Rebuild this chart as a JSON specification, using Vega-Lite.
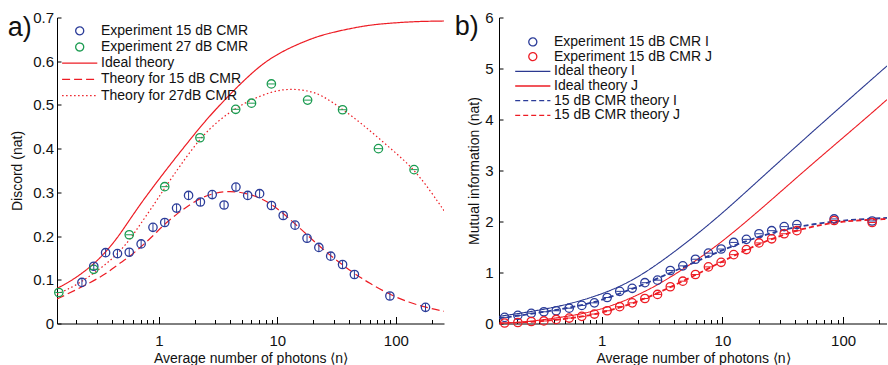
{
 "$schema": "https://vega.github.io/schema/vega-lite/v6.json",
 "padding": {"left": 7, "top": 10.5, "right": 0, "bottom": 0},
 "background": "white",
 "spacing": 10,
 "config": {
  "font": "Liberation Sans",
  "view": {"stroke": null},
  "axis": {"grid": false, "domainColor": "#000", "tickColor": "#000", "labelColor": "#111", "titleColor": "#111", "titleFontWeight": "normal", "domainWidth": 1, "tickWidth": 1},
  "legend": {"labelFont": "Liberation Sans", "labelFontSize": 14, "labelColor": "#111", "padding": 0, "symbolSize": 64, "symbolStrokeWidth": 1.3, "symbolFillColor": "transparent", "direction": "vertical"}
 },
 "resolve": {"scale": {"color": "independent", "shape": "independent", "strokeDash": "independent"}},
 "hconcat": [
  {
   "width": 387, "height": 306,
   "resolve": {"axis": {"y": "independent"}},
   "layer": [
    {
     "data": {"name": "theoryA"},
     "mark": {"type": "line", "strokeWidth": 1.2, "clip": true, "interpolate": "basis"},
     "encoding": {
      "x": {"field": "n", "type": "quantitative", "scale": {"type": "log", "domain": [0.138, 255], "nice": false},
        "axis": {"values": [0.2,0.3,0.4,0.5,0.6,0.7,0.8,0.9,1,2,3,4,5,6,7,8,9,10,20,30,40,50,60,70,80,90,100,200],
          "labelExpr": "datum.value == 1 ? '1' : datum.value == 10 ? '10' : datum.value == 100 ? '100' : ''",
          "labelOverlap": false, "labelFlush": false,
          "tickSize": {"condition": {"test": "datum.value == 1 || datum.value == 10 || datum.value == 100", "value": -7}, "value": -4},
          "labelPadding": 17, "labelFontSize": 15, "title": "Average number of photons ⟨n⟩", "titleFontSize": 14, "titlePadding": 0}},
      "y": {"field": "v", "type": "quantitative", "scale": {"domain": [0, 0.7], "nice": false, "zero": false},
        "axis": {"values": [0,0.1,0.2,0.3,0.4,0.5,0.6,0.7], "format": ".1~f", "tickSize": -4, "labelPadding": 7.5, "labelFontSize": 15, "title": "Discord (nat)", "titleFontSize": 14, "titlePadding": 8}},
      "color": {"field": "series", "type": "nominal",
        "scale": {"domain": ["Experiment 15 dB CMR", "Experiment 27 dB CMR", "Ideal theory", "Theory for 15 dB CMR", "Theory for 27dB CMR"], "range": ["#2b3c99", "#1a9b50", "#ed1c24", "#ed1c24", "#ed1c24"]},
        "legend": {"orient": "none", "legendX": 15.7, "legendY": 6.3, "title": null, "labelOffset": 14.3, "rowPadding": 2.2}},
      "strokeDash": {"field": "series", "type": "nominal",
        "scale": {"domain": ["Experiment 15 dB CMR", "Experiment 27 dB CMR", "Ideal theory", "Theory for 15 dB CMR", "Theory for 27dB CMR"], "range": [[1,0],[1,0],[1,0],[8,4],[1.5,2.5]]},
        "legend": {"orient": "none", "legendX": 15.7, "legendY": 6.3, "title": null, "labelOffset": 14.3, "rowPadding": 2.2}}
     }
    },
    {
     "data": {"name": "expA"},
     "mark": {"type": "point", "filled": false, "size": 70, "strokeWidth": 1.3, "opacity": 1},
     "encoding": {
      "x": {"field": "n", "type": "quantitative"},
      "y": {"field": "v", "type": "quantitative", "axis": null},
      "color": {"field": "series", "type": "nominal",
        "scale": {"domain": ["Experiment 15 dB CMR", "Experiment 27 dB CMR", "Ideal theory", "Theory for 15 dB CMR", "Theory for 27dB CMR"], "range": ["#2b3c99", "#1a9b50", "#ed1c24", "#ed1c24", "#ed1c24"]},
        "legend": {"orient": "none", "legendX": 15.7, "legendY": 6.3, "title": null, "labelOffset": 14.3, "rowPadding": 2.2}},
      "shape": {"field": "series", "type": "nominal",
        "scale": {"domain": ["Experiment 15 dB CMR", "Experiment 27 dB CMR", "Ideal theory", "Theory for 15 dB CMR", "Theory for 27dB CMR"], "range": ["circle", "circle", "M-4.4,0H4.4", "M-4.4,0H4.4", "M-4.4,0H4.4"]},
        "legend": {"orient": "none", "legendX": 15.7, "legendY": 6.3, "title": null, "labelOffset": 14.3, "rowPadding": 2.2}}
     }
    },
    {
     "data": {"name": "expA"},
     "transform": [{"filter": "datum.series == 'Experiment 15 dB CMR'"}],
     "mark": {"type": "tick", "orient": "vertical", "size": 8, "thickness": 1, "color": "#2b3c99", "opacity": 1},
     "encoding": {"x": {"field": "n", "type": "quantitative"}, "y": {"field": "v", "type": "quantitative", "axis": null}}
    },
    {
     "data": {"name": "expA"},
     "transform": [{"filter": "datum.series == 'Experiment 27 dB CMR'"}],
     "mark": {"type": "tick", "orient": "horizontal", "size": 7, "thickness": 1, "color": "#1a9b50", "opacity": 1},
     "encoding": {"x": {"field": "n", "type": "quantitative"},
      "y": {"field": "v", "type": "quantitative",
        "axis": {"orient": "left", "domain": false, "ticks": false, "labels": false, "title": "a)", "titleAngle": 0, "titleAlign": "left", "titleBaseline": "alphabetic", "titleX": -49.7, "titleY": 18, "titleFontSize": 27, "titleFontWeight": "normal", "titleColor": "#111"}}}
    }
   ]
  },
  {
   "width": 388, "height": 306,
   "resolve": {"axis": {"y": "independent"}},
   "layer": [
    {
     "data": {"name": "theoryB"},
     "transform": [{"filter": {"field": "series", "oneOf": ["Ideal theory I", "Ideal theory J"]}}],
     "mark": {"type": "line", "strokeWidth": 1.1, "clip": true, "interpolate": "basis"},
     "encoding": {
      "x": {"field": "n", "type": "quantitative", "scale": {"type": "log", "domain": [0.141, 231], "nice": false},
        "axis": {"values": [0.2,0.3,0.4,0.5,0.6,0.7,0.8,0.9,1,2,3,4,5,6,7,8,9,10,20,30,40,50,60,70,80,90,100,200],
          "labelExpr": "datum.value == 1 ? '1' : datum.value == 10 ? '10' : datum.value == 100 ? '100' : ''",
          "labelOverlap": false, "labelFlush": false,
          "tickSize": {"condition": {"test": "datum.value == 1 || datum.value == 10 || datum.value == 100", "value": -7}, "value": -4},
          "labelPadding": 17, "labelFontSize": 15, "title": "Average number of photons ⟨n⟩", "titleFontSize": 14, "titlePadding": 0}},
      "y": {"field": "v", "type": "quantitative", "scale": {"domain": [0, 6], "nice": false, "zero": false},
        "axis": {"values": [0,1,2,3,4,5,6], "format": "d", "tickSize": -4, "labelPadding": 10, "labelFontSize": 15, "title": "Mutual information (nat)", "titleFontSize": 14, "titlePadding": 3}},
      "color": {"field": "series", "type": "nominal",
        "scale": {"domain": ["Experiment 15 dB CMR I", "Experiment 15 dB CMR J", "Ideal theory I", "Ideal theory J", "15 dB CMR theory I", "15 dB CMR theory J"], "range": ["#2b3c99", "#ed1c24", "#2b3990", "#ed1c24", "#2b3c99", "#ed1c24"]},
        "legend": {"orient": "none", "legendX": 26.8, "legendY": 17.4, "title": null, "labelOffset": 14.2, "rowPadding": 0.7}},
      "strokeDash": {"field": "series", "type": "nominal",
        "scale": {"domain": ["Experiment 15 dB CMR I", "Experiment 15 dB CMR J", "Ideal theory I", "Ideal theory J", "15 dB CMR theory I", "15 dB CMR theory J"], "range": [[1,0],[1,0],[1,0],[1,0],[5,3],[5,3]]},
        "legend": {"orient": "none", "legendX": 26.8, "legendY": 17.4, "title": null, "labelOffset": 14.2, "rowPadding": 0.7}}
     }
    },
    {
     "data": {"name": "theoryB"},
     "transform": [{"filter": {"field": "series", "oneOf": ["15 dB CMR theory I", "15 dB CMR theory J"]}}],
     "mark": {"type": "line", "strokeWidth": 1.8, "clip": true, "interpolate": "basis"},
     "encoding": {
      "x": {"field": "n", "type": "quantitative"},
      "y": {"field": "v", "type": "quantitative", "axis": null},
      "color": {"field": "series", "type": "nominal",
        "scale": {"domain": ["Experiment 15 dB CMR I", "Experiment 15 dB CMR J", "Ideal theory I", "Ideal theory J", "15 dB CMR theory I", "15 dB CMR theory J"], "range": ["#2b3c99", "#ed1c24", "#2b3990", "#ed1c24", "#2b3c99", "#ed1c24"]},
        "legend": {"orient": "none", "legendX": 26.8, "legendY": 17.4, "title": null, "labelOffset": 14.2, "rowPadding": 0.7}},
      "strokeDash": {"field": "series", "type": "nominal",
        "scale": {"domain": ["Experiment 15 dB CMR I", "Experiment 15 dB CMR J", "Ideal theory I", "Ideal theory J", "15 dB CMR theory I", "15 dB CMR theory J"], "range": [[1,0],[1,0],[1,0],[1,0],[5,3],[5,3]]},
        "legend": {"orient": "none", "legendX": 26.8, "legendY": 17.4, "title": null, "labelOffset": 14.2, "rowPadding": 0.7}}
     }
    },
    {
     "data": {"name": "expB"},
     "mark": {"type": "point", "filled": false, "size": 70, "strokeWidth": 1.3, "opacity": 1},
     "encoding": {
      "x": {"field": "n", "type": "quantitative"},
      "y": {"field": "v", "type": "quantitative", "axis": null},
      "color": {"field": "series", "type": "nominal",
        "scale": {"domain": ["Experiment 15 dB CMR I", "Experiment 15 dB CMR J", "Ideal theory I", "Ideal theory J", "15 dB CMR theory I", "15 dB CMR theory J"], "range": ["#2b3c99", "#ed1c24", "#2b3990", "#ed1c24", "#2b3c99", "#ed1c24"]},
        "legend": {"orient": "none", "legendX": 26.8, "legendY": 17.4, "title": null, "labelOffset": 14.2, "rowPadding": 0.7}},
      "shape": {"field": "series", "type": "nominal",
        "scale": {"domain": ["Experiment 15 dB CMR I", "Experiment 15 dB CMR J", "Ideal theory I", "Ideal theory J", "15 dB CMR theory I", "15 dB CMR theory J"], "range": ["circle", "circle", "M-4.4,0H4.4", "M-4.4,0H4.4", "M-4.4,0H4.4", "M-4.4,0H4.4"]},
        "legend": {"orient": "none", "legendX": 26.8, "legendY": 17.4, "title": null, "labelOffset": 14.2, "rowPadding": 0.7}}
     }
    },
    {
     "data": {"name": "expB"},
     "transform": [{"filter": "datum.series == 'Experiment 15 dB CMR I'"}],
     "mark": {"type": "tick", "orient": "horizontal", "size": 7, "thickness": 1, "color": "#2b3c99", "opacity": 1},
     "encoding": {"x": {"field": "n", "type": "quantitative"}, "y": {"field": "v", "type": "quantitative", "axis": null}}
    },
    {
     "data": {"name": "expB"},
     "transform": [{"filter": "datum.series == 'Experiment 15 dB CMR J'"}],
     "mark": {"type": "tick", "orient": "horizontal", "size": 7, "thickness": 1, "color": "#ed1c24", "opacity": 1},
     "encoding": {"x": {"field": "n", "type": "quantitative"},
      "y": {"field": "v", "type": "quantitative",
        "axis": {"orient": "left", "domain": false, "ticks": false, "labels": false, "title": "b)", "titleAngle": 0, "titleAlign": "left", "titleBaseline": "alphabetic", "titleX": -44.7, "titleY": 16.5, "titleFontSize": 27, "titleFontWeight": "normal", "titleColor": "#111"}}}
    }
   ]
  }
 ],
 "datasets": {
  "expA": [
   {"series": "Experiment 15 dB CMR", "n": 0.224, "v": 0.094},
   {"series": "Experiment 15 dB CMR", "n": 0.282, "v": 0.131},
   {"series": "Experiment 15 dB CMR", "n": 0.355, "v": 0.162},
   {"series": "Experiment 15 dB CMR", "n": 0.447, "v": 0.160},
   {"series": "Experiment 15 dB CMR", "n": 0.562, "v": 0.163},
   {"series": "Experiment 15 dB CMR", "n": 0.708, "v": 0.182},
   {"series": "Experiment 15 dB CMR", "n": 0.891, "v": 0.220},
   {"series": "Experiment 15 dB CMR", "n": 1.12, "v": 0.231},
   {"series": "Experiment 15 dB CMR", "n": 1.41, "v": 0.264},
   {"series": "Experiment 15 dB CMR", "n": 1.78, "v": 0.293},
   {"series": "Experiment 15 dB CMR", "n": 2.24, "v": 0.278},
   {"series": "Experiment 15 dB CMR", "n": 2.82, "v": 0.295},
   {"series": "Experiment 15 dB CMR", "n": 3.55, "v": 0.271},
   {"series": "Experiment 15 dB CMR", "n": 4.47, "v": 0.312},
   {"series": "Experiment 15 dB CMR", "n": 5.62, "v": 0.293},
   {"series": "Experiment 15 dB CMR", "n": 7.08, "v": 0.297},
   {"series": "Experiment 15 dB CMR", "n": 8.91, "v": 0.270},
   {"series": "Experiment 15 dB CMR", "n": 11.2, "v": 0.247},
   {"series": "Experiment 15 dB CMR", "n": 14.1, "v": 0.225},
   {"series": "Experiment 15 dB CMR", "n": 17.8, "v": 0.195},
   {"series": "Experiment 15 dB CMR", "n": 22.4, "v": 0.174},
   {"series": "Experiment 15 dB CMR", "n": 28.2, "v": 0.154},
   {"series": "Experiment 15 dB CMR", "n": 35.5, "v": 0.135},
   {"series": "Experiment 15 dB CMR", "n": 44.7, "v": 0.112},
   {"series": "Experiment 15 dB CMR", "n": 89.1, "v": 0.063},
   {"series": "Experiment 15 dB CMR", "n": 178, "v": 0.037},
   {"series": "Experiment 27 dB CMR", "n": 0.143, "v": 0.071},
   {"series": "Experiment 27 dB CMR", "n": 0.282, "v": 0.124},
   {"series": "Experiment 27 dB CMR", "n": 0.562, "v": 0.203},
   {"series": "Experiment 27 dB CMR", "n": 1.12, "v": 0.313},
   {"series": "Experiment 27 dB CMR", "n": 2.22, "v": 0.425},
   {"series": "Experiment 27 dB CMR", "n": 4.45, "v": 0.490},
   {"series": "Experiment 27 dB CMR", "n": 6.05, "v": 0.504},
   {"series": "Experiment 27 dB CMR", "n": 8.9, "v": 0.548},
   {"series": "Experiment 27 dB CMR", "n": 18.0, "v": 0.511},
   {"series": "Experiment 27 dB CMR", "n": 35.5, "v": 0.489},
   {"series": "Experiment 27 dB CMR", "n": 71.3, "v": 0.400},
   {"series": "Experiment 27 dB CMR", "n": 142.5, "v": 0.352}
  ],
  "theoryA": [
   {"series": "Ideal theory", "n": 0.138, "v": 0.080},
   {"series": "Ideal theory", "n": 0.2, "v": 0.104},
   {"series": "Ideal theory", "n": 0.282, "v": 0.136},
   {"series": "Ideal theory", "n": 0.355, "v": 0.163},
   {"series": "Ideal theory", "n": 0.45, "v": 0.197},
   {"series": "Ideal theory", "n": 0.562, "v": 0.236},
   {"series": "Ideal theory", "n": 0.71, "v": 0.276},
   {"series": "Ideal theory", "n": 0.95, "v": 0.322},
   {"series": "Ideal theory", "n": 1.3, "v": 0.370},
   {"series": "Ideal theory", "n": 1.8, "v": 0.418},
   {"series": "Ideal theory", "n": 2.5, "v": 0.466},
   {"series": "Ideal theory", "n": 3.9, "v": 0.522},
   {"series": "Ideal theory", "n": 5.5, "v": 0.562},
   {"series": "Ideal theory", "n": 7.5, "v": 0.594},
   {"series": "Ideal theory", "n": 10, "v": 0.616},
   {"series": "Ideal theory", "n": 14, "v": 0.636},
   {"series": "Ideal theory", "n": 20, "v": 0.653},
   {"series": "Ideal theory", "n": 27, "v": 0.664},
   {"series": "Ideal theory", "n": 45, "v": 0.677},
   {"series": "Ideal theory", "n": 65, "v": 0.684},
   {"series": "Ideal theory", "n": 100, "v": 0.688},
   {"series": "Ideal theory", "n": 150, "v": 0.691},
   {"series": "Ideal theory", "n": 255, "v": 0.692},
   {"series": "Theory for 15 dB CMR", "n": 0.138, "v": 0.056},
   {"series": "Theory for 15 dB CMR", "n": 0.2, "v": 0.077},
   {"series": "Theory for 15 dB CMR", "n": 0.282, "v": 0.098},
   {"series": "Theory for 15 dB CMR", "n": 0.355, "v": 0.113},
   {"series": "Theory for 15 dB CMR", "n": 0.45, "v": 0.135},
   {"series": "Theory for 15 dB CMR", "n": 0.562, "v": 0.152},
   {"series": "Theory for 15 dB CMR", "n": 0.71, "v": 0.176},
   {"series": "Theory for 15 dB CMR", "n": 0.89, "v": 0.200},
   {"series": "Theory for 15 dB CMR", "n": 1.12, "v": 0.228},
   {"series": "Theory for 15 dB CMR", "n": 1.41, "v": 0.250},
   {"series": "Theory for 15 dB CMR", "n": 1.78, "v": 0.270},
   {"series": "Theory for 15 dB CMR", "n": 2.24, "v": 0.287},
   {"series": "Theory for 15 dB CMR", "n": 2.82, "v": 0.297},
   {"series": "Theory for 15 dB CMR", "n": 3.55, "v": 0.302},
   {"series": "Theory for 15 dB CMR", "n": 4.47, "v": 0.302},
   {"series": "Theory for 15 dB CMR", "n": 5.62, "v": 0.297},
   {"series": "Theory for 15 dB CMR", "n": 7.08, "v": 0.288},
   {"series": "Theory for 15 dB CMR", "n": 8.91, "v": 0.273},
   {"series": "Theory for 15 dB CMR", "n": 11.2, "v": 0.252},
   {"series": "Theory for 15 dB CMR", "n": 14.1, "v": 0.228},
   {"series": "Theory for 15 dB CMR", "n": 17.8, "v": 0.203},
   {"series": "Theory for 15 dB CMR", "n": 22.4, "v": 0.178},
   {"series": "Theory for 15 dB CMR", "n": 28.2, "v": 0.155},
   {"series": "Theory for 15 dB CMR", "n": 35.5, "v": 0.134},
   {"series": "Theory for 15 dB CMR", "n": 44.7, "v": 0.114},
   {"series": "Theory for 15 dB CMR", "n": 60, "v": 0.092},
   {"series": "Theory for 15 dB CMR", "n": 89, "v": 0.066},
   {"series": "Theory for 15 dB CMR", "n": 130, "v": 0.048},
   {"series": "Theory for 15 dB CMR", "n": 178, "v": 0.037},
   {"series": "Theory for 15 dB CMR", "n": 255, "v": 0.028},
   {"series": "Theory for 27dB CMR", "n": 0.138, "v": 0.067},
   {"series": "Theory for 27dB CMR", "n": 0.2, "v": 0.087},
   {"series": "Theory for 27dB CMR", "n": 0.282, "v": 0.115},
   {"series": "Theory for 27dB CMR", "n": 0.355, "v": 0.135},
   {"series": "Theory for 27dB CMR", "n": 0.45, "v": 0.160},
   {"series": "Theory for 27dB CMR", "n": 0.562, "v": 0.190},
   {"series": "Theory for 27dB CMR", "n": 0.71, "v": 0.230},
   {"series": "Theory for 27dB CMR", "n": 0.95, "v": 0.280},
   {"series": "Theory for 27dB CMR", "n": 1.12, "v": 0.310},
   {"series": "Theory for 27dB CMR", "n": 1.5, "v": 0.360},
   {"series": "Theory for 27dB CMR", "n": 2.24, "v": 0.425},
   {"series": "Theory for 27dB CMR", "n": 3.2, "v": 0.465},
   {"series": "Theory for 27dB CMR", "n": 4.47, "v": 0.493},
   {"series": "Theory for 27dB CMR", "n": 6.1, "v": 0.513},
   {"series": "Theory for 27dB CMR", "n": 8.9, "v": 0.530},
   {"series": "Theory for 27dB CMR", "n": 12, "v": 0.537},
   {"series": "Theory for 27dB CMR", "n": 17.8, "v": 0.534},
   {"series": "Theory for 27dB CMR", "n": 24, "v": 0.522},
   {"series": "Theory for 27dB CMR", "n": 35.5, "v": 0.490},
   {"series": "Theory for 27dB CMR", "n": 50, "v": 0.460},
   {"series": "Theory for 27dB CMR", "n": 71, "v": 0.425},
   {"series": "Theory for 27dB CMR", "n": 100, "v": 0.390},
   {"series": "Theory for 27dB CMR", "n": 142, "v": 0.353},
   {"series": "Theory for 27dB CMR", "n": 200, "v": 0.300},
   {"series": "Theory for 27dB CMR", "n": 255, "v": 0.258}
  ],
  "expB": [
   {"series": "Experiment 15 dB CMR I", "n": 0.157, "v": 0.12},
   {"series": "Experiment 15 dB CMR I", "n": 0.202, "v": 0.16},
   {"series": "Experiment 15 dB CMR I", "n": 0.261, "v": 0.20},
   {"series": "Experiment 15 dB CMR I", "n": 0.332, "v": 0.23},
   {"series": "Experiment 15 dB CMR I", "n": 0.42, "v": 0.25},
   {"series": "Experiment 15 dB CMR I", "n": 0.538, "v": 0.30},
   {"series": "Experiment 15 dB CMR I", "n": 0.684, "v": 0.355},
   {"series": "Experiment 15 dB CMR I", "n": 0.87, "v": 0.405},
   {"series": "Experiment 15 dB CMR I", "n": 1.11, "v": 0.51},
   {"series": "Experiment 15 dB CMR I", "n": 1.41, "v": 0.63},
   {"series": "Experiment 15 dB CMR I", "n": 1.79, "v": 0.69},
   {"series": "Experiment 15 dB CMR I", "n": 2.28, "v": 0.80},
   {"series": "Experiment 15 dB CMR I", "n": 2.9, "v": 0.85},
   {"series": "Experiment 15 dB CMR I", "n": 3.7, "v": 1.04},
   {"series": "Experiment 15 dB CMR I", "n": 4.7, "v": 1.13},
   {"series": "Experiment 15 dB CMR I", "n": 5.98, "v": 1.26},
   {"series": "Experiment 15 dB CMR I", "n": 7.66, "v": 1.38},
   {"series": "Experiment 15 dB CMR I", "n": 9.76, "v": 1.46},
   {"series": "Experiment 15 dB CMR I", "n": 12.4, "v": 1.59},
   {"series": "Experiment 15 dB CMR I", "n": 15.8, "v": 1.65},
   {"series": "Experiment 15 dB CMR I", "n": 20.1, "v": 1.76},
   {"series": "Experiment 15 dB CMR I", "n": 25.6, "v": 1.82},
   {"series": "Experiment 15 dB CMR I", "n": 32.5, "v": 1.90},
   {"series": "Experiment 15 dB CMR I", "n": 41.4, "v": 1.94},
   {"series": "Experiment 15 dB CMR I", "n": 84.3, "v": 2.05},
   {"series": "Experiment 15 dB CMR I", "n": 174, "v": 2.01},
   {"series": "Experiment 15 dB CMR J", "n": 0.157, "v": 0.01},
   {"series": "Experiment 15 dB CMR J", "n": 0.202, "v": 0.02},
   {"series": "Experiment 15 dB CMR J", "n": 0.261, "v": 0.04},
   {"series": "Experiment 15 dB CMR J", "n": 0.332, "v": 0.05},
   {"series": "Experiment 15 dB CMR J", "n": 0.42, "v": 0.08},
   {"series": "Experiment 15 dB CMR J", "n": 0.538, "v": 0.107},
   {"series": "Experiment 15 dB CMR J", "n": 0.684, "v": 0.14},
   {"series": "Experiment 15 dB CMR J", "n": 0.87, "v": 0.185},
   {"series": "Experiment 15 dB CMR J", "n": 1.11, "v": 0.25},
   {"series": "Experiment 15 dB CMR J", "n": 1.41, "v": 0.33},
   {"series": "Experiment 15 dB CMR J", "n": 1.79, "v": 0.405},
   {"series": "Experiment 15 dB CMR J", "n": 2.28, "v": 0.49},
   {"series": "Experiment 15 dB CMR J", "n": 2.9, "v": 0.57},
   {"series": "Experiment 15 dB CMR J", "n": 3.7, "v": 0.72},
   {"series": "Experiment 15 dB CMR J", "n": 4.7, "v": 0.83},
   {"series": "Experiment 15 dB CMR J", "n": 5.98, "v": 0.96},
   {"series": "Experiment 15 dB CMR J", "n": 7.66, "v": 1.11},
   {"series": "Experiment 15 dB CMR J", "n": 9.76, "v": 1.20},
   {"series": "Experiment 15 dB CMR J", "n": 12.4, "v": 1.35},
   {"series": "Experiment 15 dB CMR J", "n": 15.8, "v": 1.45},
   {"series": "Experiment 15 dB CMR J", "n": 20.1, "v": 1.58},
   {"series": "Experiment 15 dB CMR J", "n": 25.6, "v": 1.66},
   {"series": "Experiment 15 dB CMR J", "n": 32.5, "v": 1.76},
   {"series": "Experiment 15 dB CMR J", "n": 41.4, "v": 1.82},
   {"series": "Experiment 15 dB CMR J", "n": 84.3, "v": 2.02},
   {"series": "Experiment 15 dB CMR J", "n": 174, "v": 1.98}
  ],
  "theoryB": [
   {"series": "Ideal theory I", "n": 0.141, "v": 0.14},
   {"series": "Ideal theory I", "n": 0.25, "v": 0.225},
   {"series": "Ideal theory I", "n": 0.46, "v": 0.34},
   {"series": "Ideal theory I", "n": 0.87, "v": 0.52},
   {"series": "Ideal theory I", "n": 1.64, "v": 0.78},
   {"series": "Ideal theory I", "n": 3.1, "v": 1.20},
   {"series": "Ideal theory I", "n": 7, "v": 1.85},
   {"series": "Ideal theory I", "n": 12, "v": 2.33},
   {"series": "Ideal theory I", "n": 23, "v": 2.94},
   {"series": "Ideal theory I", "n": 43, "v": 3.52},
   {"series": "Ideal theory I", "n": 81, "v": 4.10},
   {"series": "Ideal theory I", "n": 150, "v": 4.66},
   {"series": "Ideal theory I", "n": 231, "v": 5.05},
   {"series": "Ideal theory J", "n": 0.141, "v": 0.0},
   {"series": "Ideal theory J", "n": 0.25, "v": 0.035},
   {"series": "Ideal theory J", "n": 0.46, "v": 0.12},
   {"series": "Ideal theory J", "n": 0.87, "v": 0.23},
   {"series": "Ideal theory J", "n": 1.64, "v": 0.46},
   {"series": "Ideal theory J", "n": 3.1, "v": 0.78},
   {"series": "Ideal theory J", "n": 7, "v": 1.33},
   {"series": "Ideal theory J", "n": 12, "v": 1.76},
   {"series": "Ideal theory J", "n": 23, "v": 2.33},
   {"series": "Ideal theory J", "n": 43, "v": 2.90},
   {"series": "Ideal theory J", "n": 81, "v": 3.46},
   {"series": "Ideal theory J", "n": 150, "v": 4.00},
   {"series": "Ideal theory J", "n": 231, "v": 4.39},
   {"series": "15 dB CMR theory I", "n": 0.141, "v": 0.10},
   {"series": "15 dB CMR theory I", "n": 0.2, "v": 0.15},
   {"series": "15 dB CMR theory I", "n": 0.3, "v": 0.21},
   {"series": "15 dB CMR theory I", "n": 0.46, "v": 0.28},
   {"series": "15 dB CMR theory I", "n": 0.7, "v": 0.36},
   {"series": "15 dB CMR theory I", "n": 1.0, "v": 0.46},
   {"series": "15 dB CMR theory I", "n": 1.5, "v": 0.61},
   {"series": "15 dB CMR theory I", "n": 2.2, "v": 0.76},
   {"series": "15 dB CMR theory I", "n": 3.2, "v": 0.93},
   {"series": "15 dB CMR theory I", "n": 4.7, "v": 1.10},
   {"series": "15 dB CMR theory I", "n": 7, "v": 1.28},
   {"series": "15 dB CMR theory I", "n": 10, "v": 1.44},
   {"series": "15 dB CMR theory I", "n": 15, "v": 1.60},
   {"series": "15 dB CMR theory I", "n": 22, "v": 1.73},
   {"series": "15 dB CMR theory I", "n": 32, "v": 1.84},
   {"series": "15 dB CMR theory I", "n": 45, "v": 1.91},
   {"series": "15 dB CMR theory I", "n": 70, "v": 1.98},
   {"series": "15 dB CMR theory I", "n": 100, "v": 2.02},
   {"series": "15 dB CMR theory I", "n": 150, "v": 2.05},
   {"series": "15 dB CMR theory I", "n": 231, "v": 2.07},
   {"series": "15 dB CMR theory J", "n": 0.141, "v": 0.0},
   {"series": "15 dB CMR theory J", "n": 0.2, "v": 0.015},
   {"series": "15 dB CMR theory J", "n": 0.3, "v": 0.04},
   {"series": "15 dB CMR theory J", "n": 0.46, "v": 0.08},
   {"series": "15 dB CMR theory J", "n": 0.7, "v": 0.135},
   {"series": "15 dB CMR theory J", "n": 1.0, "v": 0.21},
   {"series": "15 dB CMR theory J", "n": 1.5, "v": 0.33},
   {"series": "15 dB CMR theory J", "n": 2.2, "v": 0.47},
   {"series": "15 dB CMR theory J", "n": 3.2, "v": 0.64},
   {"series": "15 dB CMR theory J", "n": 4.7, "v": 0.83},
   {"series": "15 dB CMR theory J", "n": 7, "v": 1.03},
   {"series": "15 dB CMR theory J", "n": 10, "v": 1.22},
   {"series": "15 dB CMR theory J", "n": 15, "v": 1.42},
   {"series": "15 dB CMR theory J", "n": 22, "v": 1.60},
   {"series": "15 dB CMR theory J", "n": 32, "v": 1.74},
   {"series": "15 dB CMR theory J", "n": 45, "v": 1.85},
   {"series": "15 dB CMR theory J", "n": 70, "v": 1.95},
   {"series": "15 dB CMR theory J", "n": 100, "v": 2.00},
   {"series": "15 dB CMR theory J", "n": 150, "v": 2.03},
   {"series": "15 dB CMR theory J", "n": 231, "v": 2.05}
  ]
 }
}
